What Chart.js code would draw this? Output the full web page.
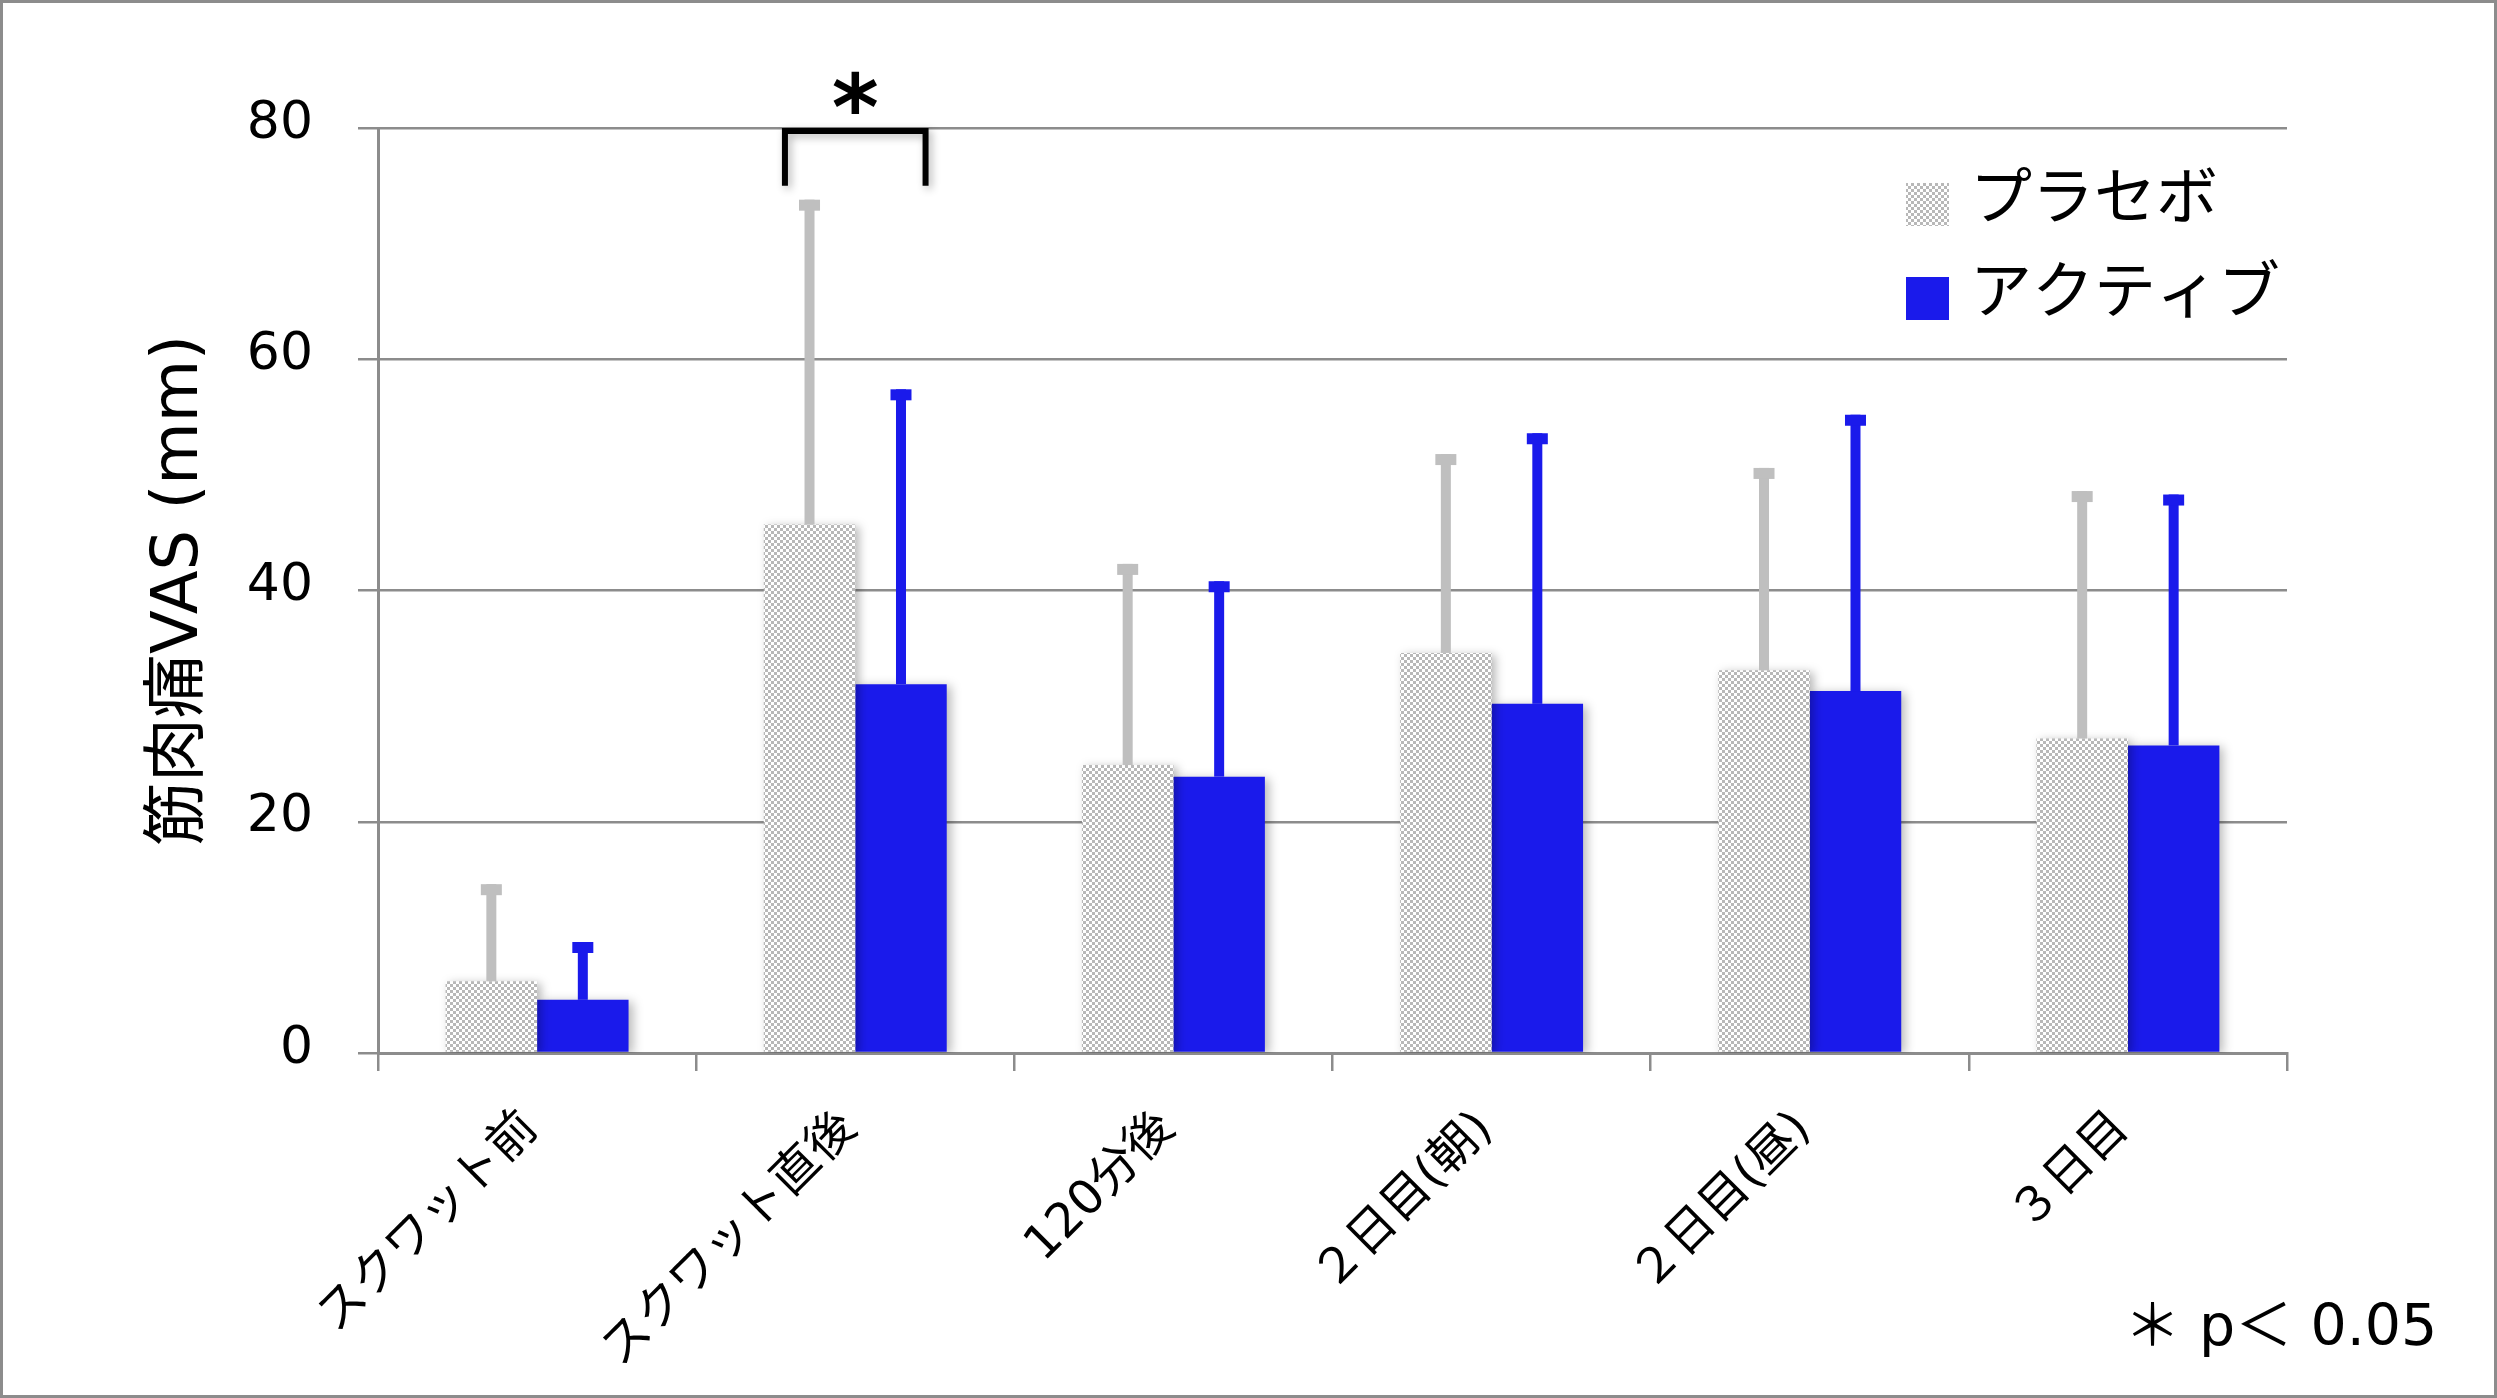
<!DOCTYPE html>
<html>
<head>
<meta charset="utf-8">
<script src="https://cdn.jsdelivr.net/npm/chart.js@4.4.1/dist/chart.umd.min.js"></script>
<style>
  html, body { margin: 0; padding: 0; background: #fff; }
  canvas { display: block; }
</style>
</head>
<body>
<canvas id="vasChart" width="2497" height="1398"></canvas>
<script>
const categories = ['スクワット前', 'スクワット直後', '120分後', '２日目(朝)', '２日目(昼)', '３日目'];
const seriesNames = ['プラセボ', 'アクティブ'];
const placeboMean = [6.2, 45.7, 24.9, 34.6, 33.1, 27.2];
const placeboSD = [8.4, 28.1, 17.4, 17.2, 17.5, 21.4];
const activeMean = [4.6, 31.9, 23.9, 30.2, 31.3, 26.6];
const activeSD = [5.0, 25.5, 16.9, 23.4, 23.9, 21.7];
const yTicks = [0, 20, 40, 60, 80];
// significance bracket: category index, bracket foot / top (mm), mark
const sigIndex = [1];
const sigLow = [75];
const sigHigh = [80];
const sigMark = ['*'];

const FONT = '"DejaVu Sans", "Noto Sans CJK JP", sans-serif';
const GRID = '#8c8c8c';
const BLUE = '#1a1aeb';

const canvas = document.getElementById('vasChart');
const ctx = canvas.getContext('2d');

// fine grey/white checker like the original fill
function makeChecker() {
    const c = document.createElement('canvas');
    c.width = 6; c.height = 6;
    const g = c.getContext('2d');
    g.fillStyle = '#ffffff';
    g.fillRect(0, 0, 6, 6);
    g.fillStyle = '#b8b8b8';
    g.fillRect(0, 0, 3, 3);
    g.fillRect(3, 3, 3, 3);
    return ctx.createPattern(c, 'repeat');
}
const checker = makeChecker();

const frame = {
    id: 'frame',
    beforeDraw(chart) {
        const { ctx, width, height } = chart;
        ctx.save();
        ctx.fillStyle = '#fff';
        ctx.fillRect(0, 0, width, height);
        ctx.strokeStyle = GRID;
        ctx.lineWidth = 3;
        ctx.strokeRect(1.5, 1.5, width - 3, height - 3);
        ctx.restore();
    }
};

const barShadow = {
    id: 'barShadow',
    beforeDatasetsDraw(chart) {
        const c = chart.ctx;
        c.save();
        c.shadowColor = 'rgba(0,0,0,0.28)';
        c.shadowBlur = 10;
        c.shadowOffsetX = 4;
        c.shadowOffsetY = 2;
    },
    afterDatasetsDraw(chart) {
        chart.ctx.restore();
    }
};

const errorBars = {
    id: 'errorBars',
    afterDatasetsDraw(chart) {
        const { ctx, scales: { y } } = chart;
        chart.data.datasets.forEach((ds, i) => {
            const meta = chart.getDatasetMeta(i);
            meta.data.forEach((bar, j) => {
                const top = y.getPixelForValue(ds.data[j] + ds.sd[j]);
                ctx.save();
                ctx.fillStyle = ds.errColor;
                ctx.fillRect(bar.x - 5, top, 10, bar.y - top);
                ctx.fillRect(bar.x - 10.5, top, 21, 11);
                ctx.restore();
            });
        });
    }
};

const sigBracket = {
    id: 'sigBracket',
    afterDatasetsDraw(chart) {
        const { ctx, scales: { x, y } } = chart;
        const band = x.width / categories.length;
        sigIndex.forEach((k, n) => {
            const cx = x.getPixelForValue(k);
            const l = cx - band * 0.221, r = cx + band * 0.221;
            const top = y.getPixelForValue(sigHigh[n]) + 3;
            const bot = y.getPixelForValue(sigLow[n]);
            ctx.save();
            ctx.shadowColor = 'rgba(0,0,0,0.3)';
            ctx.shadowBlur = 8;
            ctx.shadowOffsetX = 3;
            ctx.shadowOffsetY = 3;
            ctx.strokeStyle = '#000';
            ctx.lineWidth = 6;
            ctx.lineJoin = 'miter';
            ctx.beginPath();
            ctx.moveTo(l, bot);
            ctx.lineTo(l, top);
            ctx.lineTo(r, top);
            ctx.lineTo(r, bot);
            ctx.stroke();
            ctx.shadowColor = 'transparent';
            ctx.fillStyle = '#000';
            ctx.font = 'bold 90px "DejaVu Sans"';
            ctx.textAlign = 'center';
            ctx.textBaseline = 'alphabetic';
            ctx.fillText(sigMark[n], cx, top + 8);
            ctx.restore();
        });
    }
};

const boxLegend = {
    id: 'boxLegend',
    afterDraw(chart) {
        const { ctx, chartArea: area } = chart;
        ctx.save();
        ctx.font = '62px "Noto Sans CJK JP"';
        ctx.textBaseline = 'middle';
        ctx.textAlign = 'left';
        chart.data.datasets.forEach((ds, i) => {
            const bx = area.right - 381, by = area.top + 55 + i * 94;
            ctx.fillStyle = ds.backgroundColor;
            ctx.fillRect(bx, by, 43, 43);
            ctx.fillStyle = '#000';
            ctx.fillText(ds.label, bx + 64, by + 12);
        });
        // p-value note
        ctx.font = '57px "DejaVu Sans", "Noto Sans CJK JP"';
        ctx.textBaseline = 'alphabetic';
        ctx.fillText('＊ p＜ 0.05', area.right - 163, area.bottom + 292);
        ctx.restore();
    }
};

new Chart(ctx, {
    type: 'bar',
    data: {
        labels: categories,
        datasets: [{
            label: seriesNames[0],
            data: placeboMean,
            sd: placeboSD,
            errColor: '#bfbfbf',
            backgroundColor: checker,
            borderWidth: 0,
            categoryPercentage: 0.575,
            barPercentage: 1.0
        }, {
            label: seriesNames[1],
            data: activeMean,
            sd: activeSD,
            errColor: BLUE,
            backgroundColor: BLUE,
            borderWidth: 0,
            categoryPercentage: 0.575,
            barPercentage: 1.0
        }]
    },
    options: {
        responsive: false,
        devicePixelRatio: 1,
        animation: false,
        events: [],
        layout: { padding: { top: 128, right: 210, bottom: 0, left: 0 } },
        plugins: {
            legend: { display: false },
            tooltip: { enabled: false }
        },
        scales: {
            x: {
                grid: { display: true, drawOnChartArea: false, drawTicks: true, tickLength: 18, color: GRID, lineWidth: 2.5, offset: true },
                border: { display: true, color: GRID, width: 3 },
                ticks: {
                    autoSkip: false, maxRotation: 45, minRotation: 45,
                    padding: 30, labelOffset: -6, color: '#000',
                    font: { size: 48, family: FONT }
                },
                afterFit(s) { s.height = 345; }
            },
            y: {
                min: 0,
                max: 80,
                afterBuildTicks(s) { s.ticks = yTicks.map(v => ({ value: v })); },
                grid: { color: GRID, lineWidth: 2.5, tickLength: 20 },
                border: { color: GRID, width: 3 },
                ticks: { padding: 45, labelOffset: -4, color: '#000', font: { size: 52, family: FONT } },
                title: {
                    display: true,
                    text: '筋肉痛VAS (mm)',
                    color: '#000',
                    font: { size: 64, family: FONT },
                    padding: { top: 142, bottom: 0 }
                },
                afterFit(s) { s.width = 378; }
            }
        }
    },
    plugins: [frame, barShadow, errorBars, sigBracket, boxLegend]
});
</script>
</body>
</html>
